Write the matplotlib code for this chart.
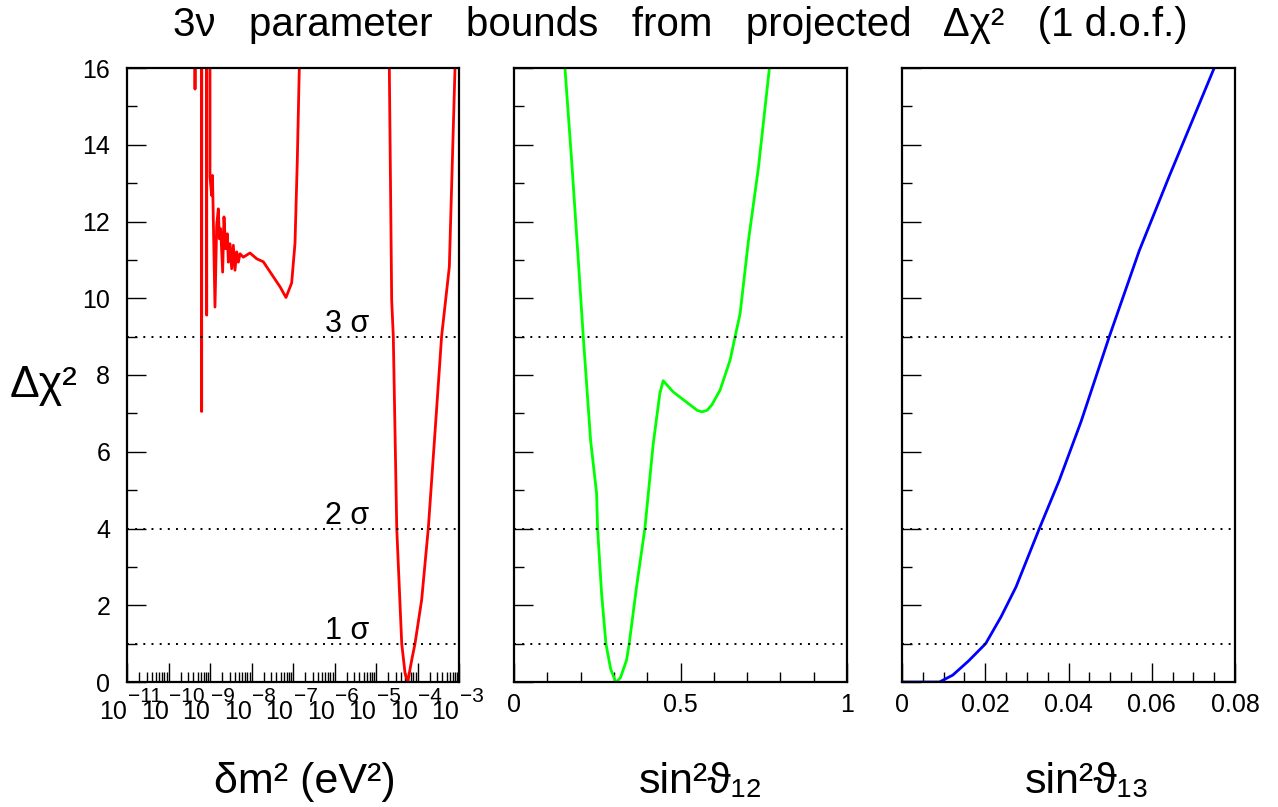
import numpy as np
import matplotlib
matplotlib.use("Agg")
import matplotlib.pyplot as plt
from matplotlib.ticker import FixedLocator, MultipleLocator, NullFormatter, LogLocator

plt.rcParams['font.family'] = ['Liberation Sans', 'DejaVu Sans']

# ---------------- data ----------------
# panel 1: log10(dm2 [eV^2]) vs dchi2 (off-scale values > 16 are clipped by the axes)
dm2_log = [-9.40, -9.361, -9.28, -9.201, -9.14, -9.080, -9.04, -9.000, -8.960, -8.940,
           -8.880, -8.839, -8.799, -8.775, -8.743, -8.695, -8.663, -8.622, -8.582, -8.558,
           -8.518, -8.478, -8.438, -8.398, -8.357, -8.317, -8.277, -8.197, -8.036, -7.876,
           -7.715, -7.474, -7.313, -7.169, -7.032, -6.952, -6.896, -6.848, -6.75, -5.5,
           -4.70, -4.679, -4.622, -4.583, -4.50, -4.38, -4.30, -4.236, -4.14, -4.06,
           -3.90, -3.74, -3.58, -3.458, -3.42, -3.233, -3.096, -3.05]
dm2_chi = [200, 15.45, 200, 7.05, 200, 9.56, 200, 13.16, 12.68, 13.2,
           9.77, 11.90, 12.33, 11.55, 11.81, 10.68, 12.12, 11.29, 11.68, 10.94,
           11.42, 10.77, 11.38, 10.73, 11.21, 10.94, 11.16, 11.07, 11.18, 11.03,
           10.95, 10.56, 10.30, 10.02, 10.40, 11.43, 13.6, 16.0, 60, 200,
           20, 16.0, 9.95, 9.0, 4.0, 1.0, 0.23, 0.0, 0.57, 1.0,
           2.14, 4.0, 6.48, 8.39, 9.0, 10.82, 16.0, 20]

# panel 2: sin^2 theta12 vs dchi2
s12 = [0.153, 0.173, 0.193, 0.208, 0.230, 0.248, 0.251, 0.263, 0.276, 0.290, 0.303,
       0.308, 0.320, 0.338, 0.346, 0.368, 0.393, 0.418, 0.438, 0.448, 0.478, 0.529,
       0.550, 0.564, 0.580, 0.594, 0.619, 0.649, 0.664, 0.679, 0.704, 0.734, 0.767]
s12_chi = [16.0, 13.6, 11.0, 9.0, 6.3, 4.92, 4.0, 2.31, 1.0, 0.35, 0.05,
           0.0, 0.12, 0.57, 1.0, 2.48, 4.0, 6.2, 7.52, 7.85, 7.56, 7.22,
           7.08, 7.04, 7.08, 7.22, 7.61, 8.39, 9.0, 9.6, 11.5, 13.4, 16.0]

# panel 3: sin^2 theta13 vs dchi2
s13 = [0.0, 0.009, 0.0122, 0.0160, 0.0201, 0.0238, 0.0274, 0.033, 0.0378, 0.043,
       0.0498, 0.057, 0.0642, 0.075]
s13_chi = [0.0, 0.0, 0.18, 0.55, 1.0, 1.7, 2.48, 4.0, 5.26, 6.78,
           9.0, 11.24, 13.18, 16.0]

sigma_levels = [1, 4, 9]
sigma_labels = ['1 σ', '2 σ', '3 σ']
yticks_major = [0, 2, 4, 6, 8, 10, 12, 14, 16]
log_decades = [-11, -10, -9, -8, -7, -6, -5, -4, -3]
p2_ticks = [0, 0.5, 1]
p2_ticklabels = ['0', '0.5', '1']
p3_ticks = [0, 0.02, 0.04, 0.06, 0.08]
p3_ticklabels = ['0', '0.02', '0.04', '0.06', '0.08']

# ---------------- figure ----------------
fig = plt.figure(figsize=(12.78, 8.07), dpi=100)
W, H = 1278, 807
def box(x0, x1, y0=68, y1=682):
    return [x0 / W, (H - y1) / H, (x1 - x0) / W, (y1 - y0) / H]

ax1 = fig.add_axes(box(127, 459))
ax2 = fig.add_axes(box(514, 847))
ax3 = fig.add_axes(box(902, 1235))

LBL = 18

# panel 1
ax1.set_xscale('log')
ax1.set_xlim(1e-11, 1e-3)
ax1.plot(10.0 ** np.array(dm2_log), dm2_chi, color='#ff0000', lw=2.0)
ax1.xaxis.set_major_locator(FixedLocator([10.0 ** d for d in log_decades]))
ax1.set_xticklabels(['10' for d in log_decades], ha='right')
ax1.xaxis.set_minor_locator(LogLocator(base=10, subs=np.arange(2, 10), numticks=50))
ax1.xaxis.set_minor_formatter(NullFormatter())

# panel 2
ax2.set_xlim(0, 1)
ax2.plot(s12, s12_chi, color='#00ff00', lw=2.0)
ax2.xaxis.set_major_locator(FixedLocator(p2_ticks))
ax2.set_xticklabels(p2_ticklabels)
ax2.xaxis.set_minor_locator(MultipleLocator(0.1))

# panel 3
ax3.set_xlim(0, 0.08)
ax3.plot(s13, s13_chi, color='#0000ff', lw=2.0)
ax3.xaxis.set_major_locator(FixedLocator(p3_ticks))
ax3.set_xticklabels(p3_ticklabels)
ax3.xaxis.set_minor_locator(MultipleLocator(0.005))

for ax in (ax1, ax2, ax3):
    ax.set_ylim(0, 16)
    ax.yaxis.set_major_locator(FixedLocator(yticks_major))
    ax.yaxis.set_minor_locator(MultipleLocator(1))
    if ax is ax1:
        ax.set_yticklabels([str(v) for v in yticks_major])
    else:
        ax.set_yticklabels([])
    ax.tick_params(which='both', direction='in', top=False, right=False, colors='black')
    ax.tick_params(which='major', length=14, width=1.0, pad=8, labelsize=LBL)
    ax.tick_params(which='minor', length=7, width=1.0)
    for s in ax.spines.values():
        s.set_linewidth(1.6)
        s.set_color('black')
    for lev in sigma_levels:
        ax.axhline(lev, color='black', lw=1.4, linestyle=(0, (1, 3.2)))

ax1.tick_params(axis='x', which='major', labelsize=LBL, pad=13)
ax1.tick_params(axis='y', which='major', pad=12)

# exponents of the log tick labels
for d in log_decades:
    ax1.annotate('−%d' % abs(d), xy=(10.0 ** d, 0), xycoords=('data', 'axes fraction'),
                 xytext=(0.5, -3.5), textcoords='offset points',
                 fontsize=15, ha='left', va='top', annotation_clip=False)

for lev, lab in zip(sigma_levels, sigma_labels):
    ax1.text(10 ** -6.23, lev + 0.12, lab, fontsize=22, ha='left', va='baseline')

# labels
fig.text(10 / W, 1 - 385 / H, 'Δχ²', fontsize=32, ha='left', va='center')
fig.text(305 / W, 1 - 782 / H, 'δm² (eV²)', fontsize=31, ha='center', va='center')
fig.text(701 / W, 1 - 782 / H, 'sin²ϑ₁₂', fontsize=31, ha='center', va='center')
fig.text(1087 / W, 1 - 782 / H, 'sin²ϑ₁₃', fontsize=31, ha='center', va='center')
fig.text(680 / W, 1 - 25 / H, '3ν   parameter   bounds   from   projected   Δχ²   (1 d.o.f.)',
         fontsize=29, ha='center', va='center')

fig.savefig('out.png', dpi=100)
